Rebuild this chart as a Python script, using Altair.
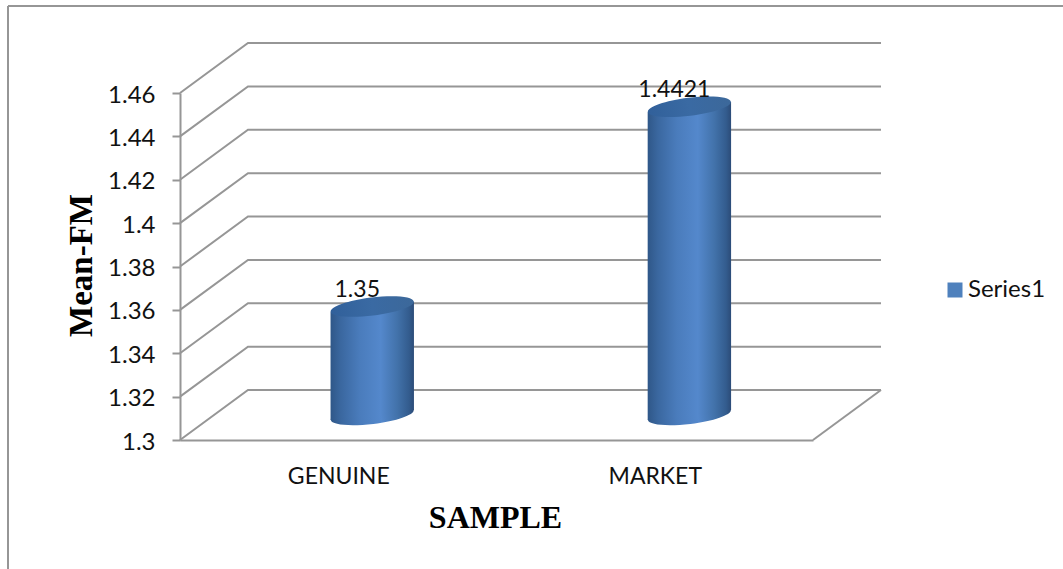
import altair as alt
import pandas as pd

# Chart values
categories = ["GENUINE", "MARKET"]
values = [1.35, 1.4421]
ticks = [1.30, 1.32, 1.34, 1.36, 1.38, 1.40, 1.42, 1.44, 1.46]
series = ["Series1"]

# Plot area is the front plane of the pseudo-3D box
W, H = 633, 347
LEFT, TOP = 180, 93
X_UNIT = W / 2
Y_UNIT = H / 0.16

# Depth of the box, in data units
DEPTH_X = 68 / X_UNIT
DEPTH_Y = 50 / Y_UNIT
X_MAX = 2.0
Y_MIN = 1.30

# Cylinder proportions, in data units
HALF_W = 41.7 / X_UNIT
TILT = 5 / Y_UNIT

x_scale = alt.Scale(domain=[0, X_MAX], nice=False, zero=False)
y_scale = alt.Scale(domain=[Y_MIN, 1.46], nice=False, zero=False)

GRID = "#969696"
ELLIPSE = "M -1 0 C -1 -0.119 -0.552 -0.216 0 -0.216 C 0.552 -0.216 1 -0.119 1 0 C 1 0.119 0.552 0.216 0 0.216 C -0.552 0.216 -1 0.119 -1 0 Z"


def horizontal(stops):
    return alt.Gradient(
        gradient="linear", x1=0, y1=0, x2=1, y2=0,
        stops=[alt.GradientStop(offset=o, color=c) for o, c in stops],
    )


body_fill = horizontal([(0, "#2f5788"), (0.12, "#3a679f"), (0.35, "#4a7cbc"),
                        (0.6, "#5488cc"), (0.8, "#4272aa"), (0.94, "#335c8e"), (1, "#2c4c78")])
cap_fill = horizontal([(0, "#31609a"), (0.5, "#3a6aa3"), (1, "#3c689a")])

# Wall gridlines: front-left corner, back-left corner, back-right corner
grid_rows = []
for t in ticks:
    grid_rows += [
        {"tick": t, "step": 0, "gx": 0, "gy": t},
        {"tick": t, "step": 1, "gx": DEPTH_X, "gy": t + DEPTH_Y},
        {"tick": t, "step": 2, "gx": X_MAX + DEPTH_X, "gy": t + DEPTH_Y},
    ]
grid = pd.DataFrame(grid_rows)

floor_edge = pd.DataFrame({
    "gx": [X_MAX, X_MAX + DEPTH_X],
    "gy": [Y_MIN, Y_MIN + DEPTH_Y],
})

# Cylinders: centre line sits half-way into the box
centers = [i + 0.5 + DEPTH_X / 2 + (0.002 * i) for i in range(len(categories))]
bars = pd.DataFrame({
    "category": categories,
    "value": values,
    "cx": centers,
    "top": [v + DEPTH_Y / 2 for v in values],
    "base": [Y_MIN + DEPTH_Y / 2] * len(values),
    "label": [str(v) for v in values],
})

body_rows = []
for _, b in bars.iterrows():
    body_rows += [
        {"category": b.category, "bx": b.cx - HALF_W, "ytop": b.top - TILT, "ybase": b.base - TILT},
        {"category": b.category, "bx": b.cx + HALF_W, "ytop": b.top + TILT, "ybase": b.base + TILT},
    ]
body = pd.DataFrame(body_rows)

label_expr = " : ".join(
    f"datum.value == {i + 0.5} ? '{c}'" for i, c in enumerate(categories)
) + " : ''"

# Both axes are shared by every layer
x_axis = alt.Axis(
    values=[i + 0.5 for i in range(len(categories))], labelExpr=label_expr,
    grid=False, ticks=False, domain=True, domainColor=GRID, domainWidth=2,
    labelFont="Lato", labelFontSize=23, labelColor="#111111", labelPadding=25,
    labelAngle=0,
    titleFont="Liberation Serif", titleFontSize=32, titleFontWeight="bold",
    titleColor="#000000", titleX=315, titleY=87, titleBaseline="alphabetic",
)
y_axis = alt.Axis(
    values=ticks, format=".2~f", grid=False,
    domain=True, domainColor=GRID, domainWidth=2,
    ticks=True, tickColor=GRID, tickSize=8, tickWidth=2,
    labelFont="Lato", labelFontSize=24, labelColor="#111111", labelPadding=17,
    labelOffset=2,
    titleFont="Liberation Serif", titleFontSize=33, titleFontWeight="bold",
    titleColor="#000000", titleX=-82, titleY=172, titleAngle=-90,
)
X = lambda f: alt.X(f, type="quantitative", scale=x_scale, axis=x_axis, title="SAMPLE")
Y = lambda f: alt.Y(f, type="quantitative", scale=y_scale, axis=y_axis, title="Mean-FM")

gridlines = alt.Chart(grid).mark_line(color=GRID, strokeWidth=2, clip=False).encode(
    x=X("gx"), y=Y("gy"), detail="tick:N", order="step:Q",
)
floor = alt.Chart(floor_edge).mark_line(color=GRID, strokeWidth=2, clip=False).encode(
    x=X("gx"), y=Y("gy"),
)

base_cap = alt.Chart(bars).mark_point(
    shape=ELLIPSE, size=83.5 ** 2, angle=353, fill=body_fill, filled=True,
    opacity=1, strokeWidth=0, clip=False,
).encode(x=X("cx"), y=Y("base"))

cyl_body = alt.Chart(body).mark_area(fill=body_fill, opacity=1, clip=False).encode(
    x=X("bx"), y=Y("ytop"), y2="ybase:Q", detail="category:N",
)

top_cap = alt.Chart(bars).mark_point(
    shape=ELLIPSE, size=83.5 ** 2, angle=353, fill=cap_fill, filled=True,
    opacity=1, strokeWidth=0, clip=False,
).encode(x=X("cx"), y=Y("top"))

value_labels = alt.Chart(bars).mark_text(
    font="Lato", fontSize=23, color="#111111", dx=-15, dy=-10,
    baseline="alphabetic", align="center", clip=False,
).encode(x=X("cx"), y=Y("top"), text="label:N")

legend_key = alt.Chart(pd.DataFrame({"series": series, "cx": [1.0], "top": [1.4]})).mark_square(
    size=0, opacity=1,
).encode(
    x=X("cx"), y=Y("top"),
    color=alt.Color("series:N", scale=alt.Scale(range=["#4f81bd"]), title=None, legend=alt.Legend(
        orient="none", legendX=763, legendY=185, symbolType="square", symbolSize=225,
        symbolStrokeWidth=0, labelFont="Lato", labelFontSize=24, labelColor="#111111",
        labelOffset=1,
    )),
)

# Outer frame: left and top edges of the chart area
frame_left = alt.Chart(pd.DataFrame({"k": [0]})).mark_rule(color=GRID, strokeWidth=2, clip=False).encode(
    x=alt.value(8 - LEFT), y=alt.value(6 - TOP), y2=alt.value(569 - TOP),
)
frame_top = alt.Chart(pd.DataFrame({"k": [0]})).mark_rule(color=GRID, strokeWidth=2, clip=False).encode(
    y=alt.value(6 - TOP), x=alt.value(8 - LEFT), x2=alt.value(1063 - LEFT),
)

chart = alt.layer(
    frame_left, frame_top, gridlines, floor, base_cap, cyl_body, top_cap,
    value_labels, legend_key,
).properties(
    width=W, height=H,
    padding={"left": LEFT, "top": TOP, "right": 1063 - LEFT - W, "bottom": 569 - TOP - H},
    autosize=alt.AutoSizeParams(type="none"),
    background="#ffffff",
).configure_view(stroke=None)

chart.save("out.html", embed_options={"renderer": "svg", "actions": False})
